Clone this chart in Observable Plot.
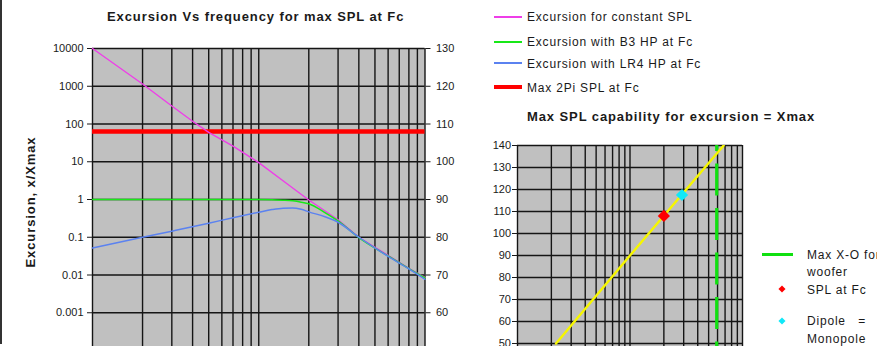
<!DOCTYPE html>
<html>
<head>
<meta charset="utf-8">
<script src="https://cdn.jsdelivr.net/npm/d3@7"></script>
<script src="https://cdn.jsdelivr.net/npm/@observablehq/plot@0.6"></script>
<style>
  html, body { margin: 0; padding: 0; overflow: hidden; background: #fff; }
  #root { position: relative; width: 877px; height: 346px; overflow: hidden;
          font-family: "Liberation Sans", Arial, sans-serif; color: #1a1a1a; }
  #root svg { position: absolute; left: 0; top: 0; overflow: visible; }
  .t { position: absolute; white-space: pre; }
  .title { font-weight: bold; font-size: 13px; line-height: 13px; letter-spacing: 0.9px; }
  .leg { font-size: 12px; line-height: 12px; letter-spacing: 0.8px; }
  .sw { position: absolute; }
  .dia { position: absolute; width: 5px; height: 5px; transform: translate(-50%, -50%) rotate(45deg); }
  .border { position: absolute; left: 0; top: 0; width: 1.5px; height: 344px; background: #333; }
</style>
</head>
<body>
<div id="root">
  <div class="border"></div>
</div>
<script>
// ---- Excursion vs frequency (x / Xmax), frequency in Hz ----
const constSplHz = [10, 20, 30, 40, 50, 70, 100, 150, 200, 300, 400, 600, 800, 1000];
const constSplX  = [10000, 1150, 300, 118, 60, 26, 9.5, 2.5, 0.97, 0.29, 0.1, 0.033, 0.015, 0.0085];

const b3Hz = [10, 50, 100, 120, 140, 160, 180, 200, 250, 300, 400, 600, 800, 1000];
const b3X  = [1, 1, 1, 0.99, 0.96, 0.92, 0.85, 0.77, 0.45, 0.27, 0.098, 0.032, 0.0147, 0.0083];

const lr4Hz = [10, 20, 30, 50, 70, 100, 120, 140, 160, 180, 200, 250, 300, 400, 600, 800, 1000];
const lr4X  = [0.052, 0.1, 0.145, 0.235, 0.33, 0.46, 0.54, 0.59, 0.6, 0.55, 0.47, 0.35, 0.25, 0.1, 0.031, 0.0145, 0.0077];

const max2PiSplDb = 108;          // Max 2Pi SPL at Fc, dB

// ---- Max SPL capability for excursion = Xmax ----
const xmaxSplHz = [22, 100, 680];
const xmaxSplDb = [50, 90, 140];
const splAtFc   = { hz: 200, db: 108 };
const dipoleEqMonopole = { hz: 290, db: 117.5 };
const maxCrossoverHz = 590;

// Tick values
const logGridHz = [10, 20, 30, 40, 50, 60, 70, 80, 90, 100, 200, 300, 400, 500, 600, 700, 800, 900, 1000];
const excursionTicks = [0.001, 0.01, 0.1, 1, 10, 100, 1000, 10000];
const splTicks = [50, 60, 70, 80, 90, 100, 110, 120, 130, 140];

// right-hand dB axis of the excursion chart: 1 = 90 dB, 10 dB per decade
const toDb = v => Math.round(90 + 10 * Math.log10(v));
const fromDb = d => Math.pow(10, (d - 90) / 10);

const font = "'Liberation Sans', Arial, sans-serif";
const gridColor = "#151515";
const root = document.getElementById("root");

const excursion = Plot.plot({
  width: 877, height: 350,
  marginLeft: 92, marginRight: 877 - 424.5, marginTop: 48, marginBottom: 0,
  style: { fontFamily: font, fontSize: "11px", color: "#1a1a1a", background: "transparent" },
  x: { type: "log", domain: [10, 1000], axis: null },
  y: { type: "log", domain: [0.0001, 10000] },
  marks: [
    Plot.frame({ fill: "#c0c0c0" }),
    Plot.ruleX(logGridHz, { stroke: gridColor, strokeWidth: 1.4 }),
    Plot.ruleY(excursionTicks, { stroke: gridColor, strokeWidth: 1.4 }),
    Plot.axisY({ ticks: excursionTicks, anchor: "left", tickSize: 5, tickPadding: 4, label: null,
                 tickFormat: d => String(d), fontSize: 11 }),
    Plot.axisY({ ticks: excursionTicks, anchor: "right", tickSize: 5, tickPadding: 6, label: null,
                 tickFormat: toDb, fontSize: 11 }),
    Plot.ruleY([fromDb(max2PiSplDb)], { stroke: "#ff0000", strokeWidth: 4.5 }),
    Plot.line(constSplHz.map((f, i) => ({ f, v: constSplX[i] })),
      { x: "f", y: "v", stroke: "#ee3ee8", strokeWidth: 1.4 }),
    Plot.line(b3Hz.map((f, i) => ({ f, v: b3X[i] })),
      { x: "f", y: "v", stroke: "#18e818", strokeWidth: 1.5, curve: "monotone-x" }),
    Plot.line(lr4Hz.map((f, i) => ({ f, v: lr4X[i] })),
      { x: "f", y: "v", stroke: "#5b82f0", strokeWidth: 1.5, curve: "monotone-x" })
  ]
});
root.appendChild(excursion);

const capability = Plot.plot({
  width: 877, height: 365,
  marginLeft: 517, marginRight: 877 - 742, marginTop: 145, marginBottom: 0,
  style: { fontFamily: font, fontSize: "11px", color: "#1a1a1a", background: "transparent" },
  x: { type: "log", domain: [10, 1000], axis: null },
  y: { domain: [40, 140] },
  marks: [
    Plot.frame({ fill: "#c0c0c0" }),
    Plot.ruleX(logGridHz, { stroke: gridColor, strokeWidth: 1.4 }),
    Plot.ruleY(splTicks, { stroke: gridColor, strokeWidth: 1.4 }),
    Plot.axisY({ ticks: splTicks, anchor: "left", tickSize: 5, tickPadding: 1.5, label: null, fontSize: 11 }),
    Plot.ruleX([maxCrossoverHz], { stroke: "#10e010", strokeWidth: 3.2,
      strokeDasharray: "32 12.5", strokeDashoffset: 26 }),
    Plot.line(xmaxSplHz.map((f, i) => ({ f, db: xmaxSplDb[i] })),
      { x: "f", y: "db", stroke: "#f6f600", strokeWidth: 2.4, clip: true }),
    Plot.dot([splAtFc], { x: "hz", y: "db", symbol: "diamond2", r: 5.5, fill: "#ff0000", stroke: "none" }),
    Plot.dot([dipoleEqMonopole], { x: "hz", y: "db", symbol: "diamond2", r: 5.5, fill: "#10e8f8", stroke: "none" })
  ]
});
root.appendChild(capability);

// ---- titles and legends ----
function addText(cls, txt, left, top, extra = {}) {
  const el = document.createElement("div");
  el.className = "t " + cls;
  el.textContent = txt;
  el.style.left = left + "px";
  el.style.top = top + "px";
  Object.assign(el.style, extra);
  root.appendChild(el);
  return el;
}
function addSwatch(left, cy, w, h, color) {
  const el = document.createElement("div");
  el.className = "sw";
  Object.assign(el.style, { left: left + "px", top: Math.round(cy - h / 2) + "px", width: w + "px", height: h + "px", background: color });
  root.appendChild(el);
}
function addDiamond(cx, cy, color) {
  const el = document.createElement("div");
  el.className = "dia";
  Object.assign(el.style, { left: cx + "px", top: cy + "px", background: color });
  root.appendChild(el);
}

addText("title", "Excursion Vs frequency for max SPL at Fc", 107, 10);
addText("title", "Max SPL capability for excursion = Xmax", 527, 110);
addText("title", "Excursion, x/Xmax", 30, 202, { transform: "translate(-50%, -50%) rotate(-90deg)" });

const leftLegend = [
  { label: "Excursion for constant SPL", color: "#ee3ee8", h: 2, cy: 16.7 },
  { label: "Excursion with B3 HP at Fc", color: "#18e818", h: 2, cy: 41.7 },
  { label: "Excursion with LR4 HP at Fc", color: "#5b82f0", h: 2, cy: 63.3 },
  { label: "Max 2Pi SPL at Fc", color: "#ff0000", h: 4, cy: 87.3 }
];
for (const d of leftLegend) {
  addSwatch(494, d.cy, 28, d.h, d.color);
  addText("leg", d.label, 527, d.cy - 5.7);
}

addSwatch(762, 255, 31, 3.4, "#10e010");
addText("leg", "Max X-O for", 807, 255 - 5.7);
addText("leg", "woofer", 807, 271.7 - 5.7);
addDiamond(782, 289.3, "#ff0000");
addText("leg", "SPL at Fc", 807, 289.3 - 5.7);
addDiamond(782, 320.7, "#10e8f8");
addText("leg", "Dipole   =", 807, 320.7 - 5.7);
addText("leg", "Monopole", 807, 338.3 - 5.7);
</script>
</body>
</html>
